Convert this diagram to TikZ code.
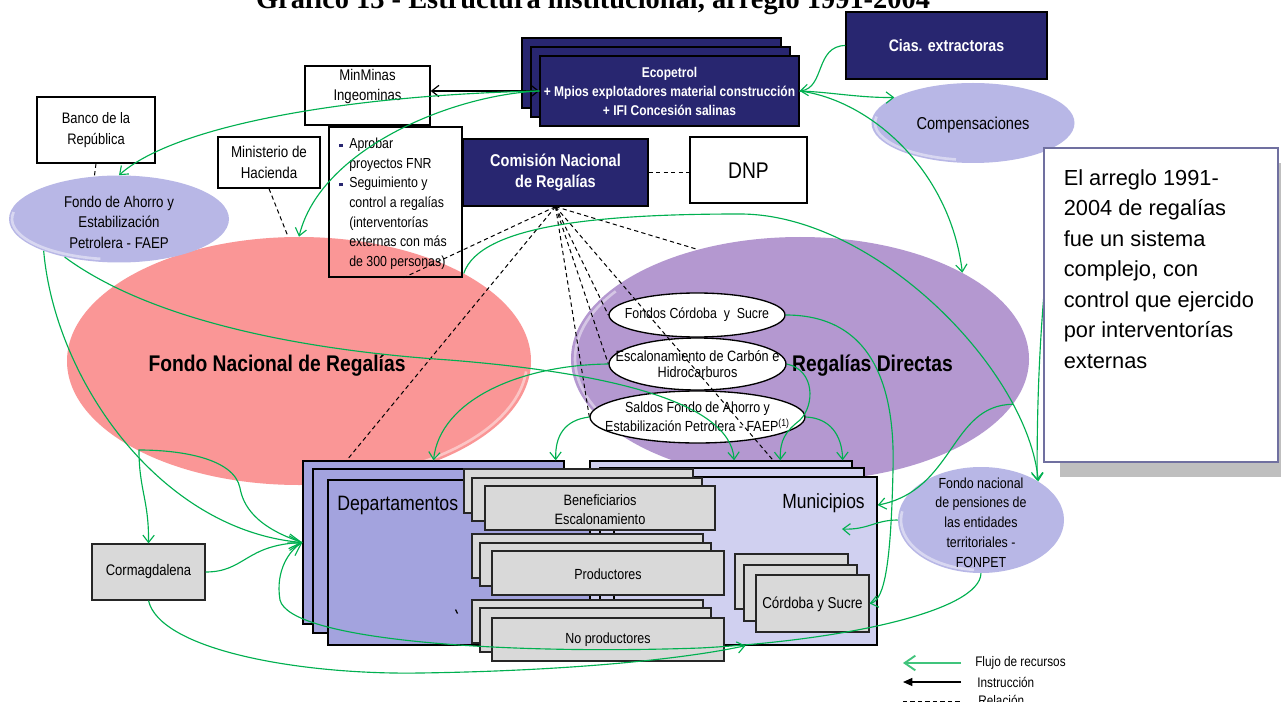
\documentclass[tikz,border=0pt]{standalone}
\usepackage{fontspec}
\setmainfont{Liberation Sans}[FakeStretch=0.85]
\newfontfamily\plainsans{Liberation Sans}
\newfontfamily\titleserif{Liberation Serif}
\usetikzlibrary{arrows.meta,shapes.geometric,fit,calc}

\definecolor{navyb}{RGB}{40,38,112}
\definecolor{fnrc}{RGB}{250,150,150}
\definecolor{rdc}{RGB}{180,152,208}
\definecolor{lavc}{RGB}{184,183,230}
\definecolor{depc}{RGB}{163,163,222}
\definecolor{munc}{RGB}{208,208,240}
\definecolor{grayb}{RGB}{217,217,217}
\definecolor{flowc}{RGB}{0,176,80}
\definecolor{notec}{RGB}{112,112,160}
\definecolor{shadec}{RGB}{191,191,191}

\newcommand{\fsz}[2]{\fontsize{#1}{#2}\selectfont}
\newcommand{\bulsq}{\makebox[7.5pt][l]{\textcolor{navyb}{\rule[1.3pt]{2.6pt}{2.6pt}}}}
\newcommand{\bulin}{\hspace*{7.5pt}}

\begin{document}
\begin{tikzpicture}[x=0.75pt, y=-0.75pt,
  box/.style={draw=black, line width=1pt, fill=white, inner sep=0pt},
  navybox/.style={draw=black, line width=1pt, fill=navyb, inner sep=0pt},
  graybox/.style={draw=black!85, line width=0.9pt, fill=grayb, inner sep=0pt},
  depbox/.style={draw=black, line width=1pt, fill=depc, inner sep=0pt},
  munbox/.style={draw=black, line width=1pt, fill=munc, inner sep=0pt},
  oval/.style={ellipse, inner sep=0pt},
  woval/.style={oval, draw=black, line width=1pt, fill=white},
  lavoval/.style={oval, fill=lavc},
  txt/.style={inner sep=0pt, align=center},
  wtxt/.style={txt, text=white},
  flow/.style={draw=flowc, line width=0.85pt, -{Straight Barb[length=5.5pt,width=8.5pt]}},
  bigflow/.style={draw=flowc, line width=0.85pt, -{Straight Barb[length=9pt,width=11pt]}},
  rel/.style={draw=black, line width=0.75pt, dash pattern=on 3.2pt off 2.4pt},
  instr/.style={draw=black, line width=0.9pt, {Straight Barb[length=5.5pt,width=8.5pt]}-{Straight Barb[length=5.5pt,width=8.5pt]}},
  rim/.style={white, line width=2pt, opacity=0.45}
]
\useasboundingbox (0,0) rectangle (1281,702);
\fill[white] (0,0) rectangle (1281,702);

% heading, cut by the page top
\node[anchor=base, inner sep=0pt, font=\titleserif\bfseries\fsz{21.3}{24}] (title) at (593,9)
  {Gráfico 13 - Estructura institucional, arreglo 1991-2004};

% the two large funds
\node[oval, fill=fnrc, minimum width=348pt, minimum height=186pt] (fnr) at (299,361) {};
\draw[rim] ($(fnr.center)+(5:228 and 120)$) arc[start angle=5, end angle=80, x radius=228, y radius=120];
\node[oval, fill=rdc, minimum width=343.5pt, minimum height=183pt] (rd) at (800,359) {};
\draw[rim] ($(rd.center)+(140:225 and 118)$) arc[start angle=140, end angle=215, x radius=225, y radius=118];
\node[txt, font=\bfseries\fsz{17}{20}] (fnr-t) at (277,366) {Fondo Nacional de Regalías};
\node[txt, font=\bfseries\fsz{17}{20}] (rd-t) at (872.5,366) {Regalías Directas};

% institutions
\node[box, fit={(37,97)(155,163)}] (banco) {};
\node[txt, font=\fsz{11.4}{15.75}] (banco-t) at (banco.center) {Banco de la\\República};
\node[box, fit={(305,66)(430,125)}] (minmin) {};
\node[txt, font=\fsz{11.6}{15}] (minmin-t) at (367.5,87) {MinMinas\\Ingeominas};
\node[box, fit={(218,137)(320,188)}] (mh) {};
\node[txt, font=\fsz{11.8}{15.75}] (mh-t) at (mh.center) {Ministerio de\\Hacienda};
\node[draw=black, line width=1pt, inner sep=0pt, fit={(329,127)(462,277)}] (fun) {};
\node[anchor=north west, inner sep=0pt, align=left, font=\fsz{10.9}{14.7}] (fun-t) at (339,138)
  {\bulsq Aprobar\\\bulin proyectos FNR\\\bulsq Seguimiento y\\\bulin control a regalías\\\bulin (interventorías\\\bulin externas con más\\\bulin de 300 personas)};
\node[navybox, fit={(463,139)(648,206)}] (cnr) {};
\node[wtxt, font=\bfseries\fsz{12.8}{15.75}] (cnr-t) at (cnr.center) {Comisión Nacional\\de Regalías};
\node[box, fit={(690,137)(807,203)}] (dnp) {};
\node[txt, font=\fsz{17}{19}] (dnp-t) at (748.5,171) {DNP};

% producers
\node[navybox, fit={(522,38)(781,108)}] (eco3) {};
\node[navybox, fit={(531,47)(790,117)}] (eco2) {};
\node[navybox, fit={(540,56)(799,126)}] (eco1) {};
\node[wtxt, font=\bfseries\fsz{10.6}{14.25}] (eco-t) at (eco1.center)
  {Ecopetrol\\+ Mpios explotadores material construcción\\+ IFI Concesión salinas};
\node[navybox, fit={(846,12)(1047,79)}] (cias) {};
\node[wtxt, font=\bfseries\fsz{12.5}{15}] (cias-t) at (cias.center) {Cias. extractoras};

% lavender funds
\node[lavoval, minimum width=165pt, minimum height=65.25pt] (faep) at (119,219) {};
\draw[rim] ($(faep.center)+(100:107 and 40.5)$) arc[start angle=100, end angle=190, x radius=107, y radius=40.5];
\node[txt, font=\fsz{11.7}{15.4}] (faep-t) at (119,222) {Fondo de Ahorro y\\Estabilización\\Petrolera - FAEP};
\node[lavoval, minimum width=152.25pt, minimum height=60pt] (comp) at (973,123) {};
\draw[rim] ($(comp.center)+(100:98 and 37)$) arc[start angle=100, end angle=190, x radius=98, y radius=37];
\node[txt, font=\fsz{12.9}{15}] (comp-t) at (973,125) {Compensaciones};
\node[lavoval, minimum width=124.5pt, minimum height=79.5pt] (fonpet) at (981,520) {};
\draw[rim] ($(fonpet.center)+(95:80 and 50)$) arc[start angle=95, end angle=190, x radius=80, y radius=50];
\node[txt, font=\fsz{10.95}{14.8}] (fonpet-t) at (981,522.5) {Fondo nacional\\de pensiones de\\las entidades\\territoriales -\\FONPET};

% direct royalty items
\node[woval, minimum width=132pt, minimum height=33pt] (fcs) at (697,315) {};
\node[txt, font=\fsz{10.9}{13}] (fcs-t) at (fcs.center) {Fondos Córdoba \ y \ Sucre};
\node[woval, minimum width=132.75pt, minimum height=39pt] (esc) at (697.5,364) {};
\node[txt, font=\fsz{11.2}{12}] (esc-t) at (esc.center) {Escalonamiento de Carbón e\\Hidrocarburos};
\node[woval, minimum width=161.25pt, minimum height=39pt] (sal) at (697.5,417) {};
\node[txt, font=\fsz{11}{14.25}] (sal-t) at (sal.center) {Saldos Fondo de Ahorro y\\Estabilización Petrolera - FAEP\textsuperscript{(1)}};

% territorial entities
\node[depbox, fit={(303,461)(564,624)}] (dep3) {};
\node[depbox, fit={(313,469)(575,633)}] (dep2) {};
\node[depbox, fit={(328,480)(590,645)}] (dep1) {};
\node[txt, anchor=west, font=\fsz{15.6}{18}] (dep-t) at (337,505) {Departamentos};
\node[munbox, fit={(590,461)(852,626)}] (mun3) {};
\node[munbox, fit={(600,468)(864,634)}] (mun2) {};
\node[munbox, fit={(614,477)(877,645)}] (mun1) {};
\node[txt, anchor=east, font=\fsz{15.4}{18}] (mun-t) at (865,503) {Municipios};

\node[graybox, fit={(464,469)(693,513)}] (ben3) {};
\node[graybox, fit={(472,478)(702,521)}] (ben2) {};
\node[graybox, fit={(485,486)(715,530)}] (ben1) {};
\node[txt, font=\fsz{11.25}{14.25}] (ben-t) at (600,509.5) {Beneficiarios\\Escalonamiento};
\node[graybox, fit={(472,534)(703,578)}] (pro3) {};
\node[graybox, fit={(480,543)(711,586)}] (pro2) {};
\node[graybox, fit={(492,551)(724,595)}] (pro1) {};
\node[txt, font=\fsz{11}{13}] (pro-t) at (608,574) {Productores};
\node[graybox, fit={(472,600)(703,643)}] (nop3) {};
\node[graybox, fit={(480,608)(711,652)}] (nop2) {};
\node[graybox, fit={(492,618)(724,661)}] (nop1) {};
\node[txt, font=\fsz{11}{13}] (nop-t) at (608,640) {No productores};
\node[graybox, fit={(735,554)(848,609)}] (cys3) {};
\node[graybox, fit={(744,565)(857,621)}] (cys2) {};
\node[graybox, fit={(756,575)(869,632)}] (cys1) {};
\node[txt, font=\fsz{11.8}{14}] (cys-t) at (812.5,604) {Córdoba y Sucre};
\node[graybox, fit={(92,544)(205,600)}] (cormag) {};
\node[txt, font=\fsz{11.5}{14}] (cormag-t) at (cormag.center) {Cormagdalena};
\draw[line width=0.9pt] (455.5,609.5) -- (457.5,613.5);

% relations
\draw[rel] (banco.south) -- (faep.120);
\draw[rel] (mh.south) -- (fnr.95);
\draw[rel] (cnr.east) -- (dnp.west |- cnr.east);
\draw[rel] (cnr.south) -- ($(fun.south west)!0.56!(fun.south east)$);
\draw[rel] (cnr.south) -- ($(dep3.north west)!0.169!(dep3.north east)$);
\draw[rel] (cnr.south) -- (sal.west);
\draw[rel] (cnr.south) -- (esc.west);
\draw[rel] (cnr.south) -- (fcs.west);
\draw[rel] (cnr.south) -- ($(mun3.north west)!0.698!(mun3.north east)$);
\draw[rel] (cnr.south) -- (rd.133);

% instruction
\draw[instr] (minmin.east |- eco1.west) -- (eco1.west);

% resource flows
\draw[flow] (eco1.west) .. controls (350,95) and (175,125) .. (faep.north);
\draw[flow] (eco1.west) .. controls (450,95) and (320,150) .. (fnr.north);
\draw[flow] (cias.west) .. controls (815,46) and (825,88) .. (eco1.east);
\draw[flow] (eco1.east) .. controls (830,92) and (860,98) .. (comp.162);
\draw[flow] (eco1.east) .. controls (870,100) and (950,170) .. (rd.28);
\draw[flow] (fnr.28) .. controls (480,225) and (600,214) .. (740,214)
  .. controls (875,214) and (1028,370) .. (fonpet.34);
\draw[bigflow] (faep.203) .. controls (55,380) and (160,530) .. (dep3.west);
\draw[flow] (faep.215) .. controls (150,320) and (300,350) .. (449,360)
  .. controls (600,372) and (730,400) .. ($(mun3.north west)!0.55!(mun3.north east)$);
\draw[flow] (esc.west) .. controls (520,365) and (440,400) .. (dep3.north);
\draw[flow] (sal.west) .. controls (565,420) and (555,435) .. ($(dep3.north west)!0.966!(dep3.north east)$);
\draw[flow] (dep3.west) .. controls (255,527) and (243,505) .. (240,488)
  .. controls (234,458) and (180,450) .. (139,450)
  .. controls (139,490) and (149,500) .. (cormag.north);
\draw[bigflow] (cormag.east) .. controls (245,572) and (245,545) .. (dep3.west);
\draw[bigflow] (fonpet.south) .. controls (980,610) and (850,640) .. (700,648)
  .. controls (500,655) and (290,640) .. (280,600)
  .. controls (275,570) and (290,550) .. (dep3.west);
\draw[flow] (cormag.south) .. controls (160,650) and (300,675) .. (420,673)
  .. controls (560,671) and (680,660) .. (mun1.south);
\draw[flow] (fcs.east) .. controls (880,315) and (895,400) .. (893,470)
  .. controls (891,560) and (885,600) .. (cys1.east);
\draw[flow] (esc.east) .. controls (815,370) and (815,405) .. (800,420)
  .. controls (785,432) and (780,440) .. ($(mun3.north west)!0.725!(mun3.north east)$);
\draw[flow] (sal.east) .. controls (830,418) and (842,435) .. ($(mun3.north west)!0.962!(mun3.north east)$);
\draw[flow] (rd.-12) .. controls (950,405) and (955,490) .. ($(mun1.north east)!0.17!(mun1.south east)$);
\coordinate (munin) at (842,529);
\draw[flow] (fonpet.west) .. controls (875,520) and (868,530) .. (munin);
\draw[flow] (comp.-20) .. controls (1062,200) and (1036,270) .. (fonpet.35);

% side note
\node[fill=shadec, inner sep=0pt, fit={(1060,163)(1295,477)}] (note-sh) {};
\node[draw=notec, line width=2pt, fill=white, inner sep=0pt, fit={(1044,148)(1278,462)}] (note) {};
\node[anchor=north west, inner sep=0pt, align=left, font=\plainsans\fsz{16.35}{22.9}] (note-t) at (1063.5,169)
  {El arreglo 1991-\\2004 de regalías\\fue un sistema\\complejo, con\\control que ejercido\\por interventorías\\externas};

% legend
\coordinate (lgf1) at (961,663); \coordinate (lgf2) at (903,663);
\coordinate (lgi1) at (961,682); \coordinate (lgi2) at (903,682);
\coordinate (lgr1) at (903,701); \coordinate (lgr2) at (961,701);
\draw[draw=flowc!75, line width=1.4pt, -{Straight Barb[length=8pt,width=11pt]}] (lgf1) -- (lgf2);
\draw[draw=black, line width=1pt, -{Triangle[length=7pt,width=6pt]}] (lgi1) -- (lgi2);
\draw[rel] (lgr1) -- (lgr2);
\node[anchor=west, inner sep=0pt, font=\fsz{10.4}{12}] (lg-f) at (975,663) {Flujo de recursos};
\node[anchor=west, inner sep=0pt, font=\fsz{10.4}{12}] (lg-i) at (977,682) {Instrucción};
\node[anchor=west, inner sep=0pt, font=\fsz{10.4}{12}] (lg-r) at (978,700) {Relación};
\end{tikzpicture}
\end{document}
